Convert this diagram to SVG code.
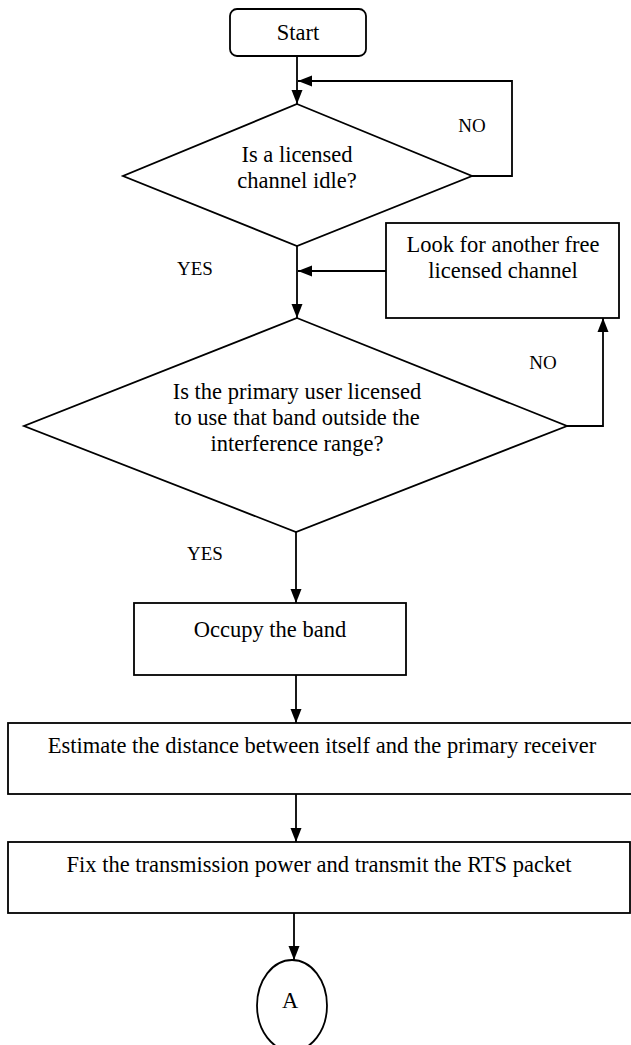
<svg xmlns="http://www.w3.org/2000/svg" width="631" height="1045" viewBox="0 0 631 1045">
<style>
.shape{fill:#fff;stroke:#000;stroke-width:1.8}
.conn{fill:none;stroke:#000;stroke-width:1.8}
.t{font-family:"Liberation Serif","Times New Roman",Times,serif;font-size:22.5px;fill:#000;text-anchor:middle}
.lbl{font-family:"Liberation Serif","Times New Roman",Times,serif;font-size:19px;fill:#000;text-anchor:middle}
</style>
<defs>
<marker id="arr" markerUnits="userSpaceOnUse" markerWidth="14" markerHeight="12" refX="14" refY="6" orient="auto">
<path d="M0,0.5 L14,6 L0,11.5 z" fill="#000"/>
</marker>
</defs>
<rect width="631" height="1045" fill="#fff"/>
<g id="connectors">
<path class="conn" d="M297,56 L297,104" marker-end="url(#arr)"/>
<path class="conn" d="M472,176 L512,176 L512,81 L298,81" marker-end="url(#arr)"/>
<path class="conn" d="M297,246 L297,318" marker-end="url(#arr)"/>
<path class="conn" d="M386,271 L298,271" marker-end="url(#arr)"/>
<path class="conn" d="M567,426 L603,426 L603,318" marker-end="url(#arr)"/>
<path class="conn" d="M296,532 L296,603" marker-end="url(#arr)"/>
<path class="conn" d="M296,675 L296,723" marker-end="url(#arr)"/>
<path class="conn" d="M296,794 L296,842" marker-end="url(#arr)"/>
<path class="conn" d="M294,913 L294,960" marker-end="url(#arr)"/>
</g>
<g id="labels">
<text class="lbl" x="472" y="132">NO</text>
<text class="lbl" x="195" y="275">YES</text>
<text class="lbl" x="543" y="369">NO</text>
<text class="lbl" x="205" y="560">YES</text>
</g>
<g id="start">
<rect class="shape" x="230" y="9" width="136" height="47" rx="7"/>
<text class="t" x="298" y="40">Start</text>
</g>
<g id="decision1">
<polygon class="shape" points="297,104 472,176 297,246 123,176"/>
<text class="t" x="297" y="162">Is a licensed</text>
<text class="t" x="297" y="188">channel idle?</text>
</g>
<g id="lookfor">
<rect class="shape" x="386" y="223" width="233" height="95"/>
<text class="t" x="503" y="252">Look for another free</text>
<text class="t" x="503" y="278">licensed channel</text>
</g>
<g id="decision2">
<polygon class="shape" points="297,318 567,426 296,532 24,426"/>
<text class="t" x="297" y="399">Is the primary user licensed</text>
<text class="t" x="297" y="425">to use that band outside the</text>
<text class="t" x="297" y="451">interference range?</text>
</g>
<g id="occupy">
<rect class="shape" x="134" y="603" width="272" height="72"/>
<text class="t" x="270" y="637">Occupy the band</text>
</g>
<g id="estimate">
<rect class="shape" x="8" y="723" width="628" height="71"/>
<text class="t" x="322" y="753">Estimate the distance between itself and the primary receiver</text>
</g>
<g id="fix">
<rect class="shape" x="8" y="842" width="622" height="71"/>
<text class="t" x="319" y="872">Fix the transmission power and transmit the RTS packet</text>
</g>
<g id="connectorA">
<ellipse class="shape" cx="292" cy="1005.5" rx="35" ry="45.5"/>
<text class="t" x="290" y="1008">A</text>
</g>
</svg>
